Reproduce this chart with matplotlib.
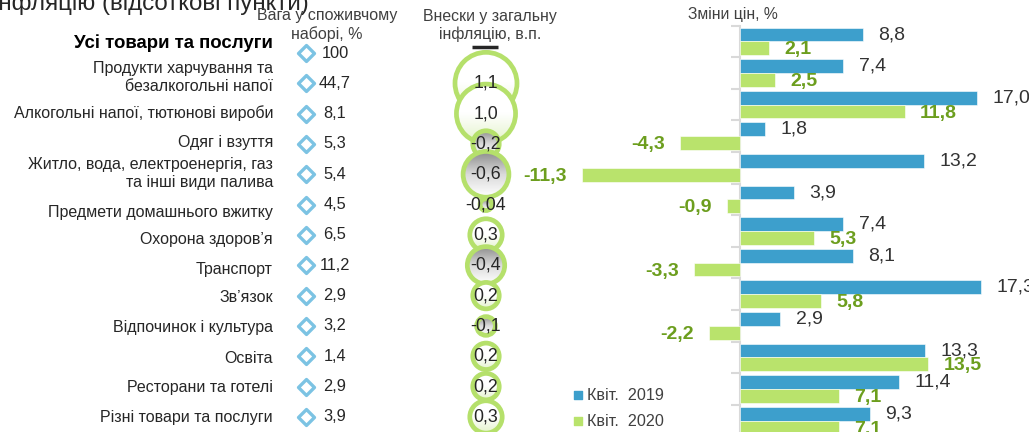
import numpy as np
import matplotlib
matplotlib.use("Agg")
import matplotlib.pyplot as plt
from matplotlib.patches import Circle
from matplotlib.colors import LinearSegmentedColormap

plt.rcParams['font.family'] = ['Liberation Sans', 'DejaVu Sans']

# --- data ---
categories = [
    "Усі товари та послуги",
    "Продукти харчування та\nбезалкогольні напої",
    "Алкогольні напої, тютюнові вироби",
    "Одяг і взуття",
    "Житло, вода, електроенергія, газ\nта інші види палива",
    "Предмети домашнього вжитку",
    "Охорона здоров’я",
    "Транспорт",
    "Зв’язок",
    "Відпочинок і культура",
    "Освіта",
    "Ресторани та готелі",
    "Різні товари та послуги",
]
weights = [100, 44.7, 8.1, 5.3, 5.4, 4.5, 6.5, 11.2, 2.9, 3.2, 1.4, 2.9, 3.9]
# contribution to headline inflation, p.p. (no bubble for the total)
contrib = [np.nan, 1.1, 1.0, -0.2, -0.6, -0.04, 0.3, -0.4, 0.2, -0.1, 0.2, 0.2, 0.3]
apr2019 = [8.8, 7.4, 17.0, 1.8, 13.2, 3.9, 7.4, 8.1, 17.3, 2.9, 13.3, 11.4, 9.3]
apr2020 = [2.1, 2.5, 11.8, -4.3, -11.3, -0.9, 5.3, -3.3, 5.8, -2.2, 13.5, 7.1, 7.1]
series_names = ["Квіт.  2019", "Квіт.  2020"]

BLUE = "#3d9fcc"
GREEN = "#b9e36c"
GREEN_TXT = "#6c9e1e"
RING = "#b5e06b"
TXT = "#262626"
GREY_TXT = "#404040"


def fmt(v):
    s = f"{v:.2f}" if abs(round(v, 1) - v) > 1e-9 else f"{v:.1f}"
    return s.replace(".", ",")


fig = plt.figure(figsize=(10.29, 4.32), dpi=100)

# left part drawn in pixel coordinates
ax0 = fig.add_axes([0, 0, 1, 1])
ax0.set_xlim(0, 1029)
ax0.set_ylim(432, 0)
ax0.axis("off")

n = len(categories)
row_y = 53 + 30.33 * np.arange(n)
label_dy = [-10, -6, -1, -1, -1, 8, 5, 4, 2, 2, 2, 1, 1]

ax0.text(-7, 10, "інфляцію (відсоткові пункти)", fontsize=17.4, color=TXT,
         ha="left", va="baseline")

ax0.text(327, 25, "Вага у споживчому\nнаборі, %", fontsize=11.5, color=GREY_TXT,
         ha="center", va="center", linespacing=1.2)
ax0.text(490, 25, "Внески у загальну\nінфляцію, в.п.", fontsize=11.4, color=GREY_TXT,
         ha="center", va="center", linespacing=1.2)
ax0.plot([472, 498], [47, 47], color=TXT, lw=2.5, solid_capstyle="butt")
ax0.text(733, 14, "Зміни цін, %", fontsize=11.3, color=GREY_TXT, ha="center", va="center")

for i, cat in enumerate(categories):
    bold = i == 0
    ax0.text(273, row_y[i] + label_dy[i], cat, ha="right", va="center",
             fontsize=13.4 if bold else 11.5, fontweight="bold" if bold else "normal",
             color="black" if bold else TXT, linespacing=1.2, multialignment="right")

ax0.scatter(np.full(n, 306), row_y, marker="D", s=66, facecolor="white",
            edgecolor="#7cc3e3", linewidth=2.4, zorder=3)
for i, w in enumerate(weights):
    ax0.text(335, row_y[i], f"{w:g}".replace(".", ","), ha="center", va="center",
             fontsize=11.8, color=TXT)

# bubbles, area ~ |contribution|
pos_cmap = LinearSegmentedColormap.from_list("pos", ["#ffffff", "#ffffff", "#e4f3cb"])
neg_cmap = LinearSegmentedColormap.from_list("neg", ["#8c8c8c", "#d9d9d9", "#ffffff"])
grad = np.linspace(0, 1, 64).reshape(-1, 1)
cx = 486
for i, c in enumerate(contrib):
    if np.isnan(c):
        continue
    r = 31 * np.sqrt(abs(c) / 1.1)
    cy = row_y[i]
    z = 4 + i * 0.1
    im = ax0.imshow(grad, cmap=pos_cmap if c > 0 else neg_cmap,
                    extent=(cx - r, cx + r, cy + r, cy - r), origin="upper",
                    aspect="auto", zorder=z)
    clip = Circle((cx, cy), r, transform=ax0.transData)
    im.set_clip_path(clip)
    ax0.add_patch(Circle((cx, cy), r, fill=False, edgecolor=RING, lw=3.4, zorder=z + 0.05))
for i, c in enumerate(contrib):
    if np.isnan(c):
        continue
    ax0.text(cx, row_y[i], fmt(c), ha="center", va="center", fontsize=12.8,
             color=TXT, zorder=10)

# legend
for k, (name, col) in enumerate(zip(series_names, [BLUE, GREEN])):
    yy = 395 + 26 * k
    ax0.scatter([578], [yy], marker="s", s=36, color=col, zorder=3)
    ax0.text(587, yy, name, ha="left", va="center", fontsize=11.6, color=GREY_TXT)

# bar chart
axb = fig.add_axes([560 / 1029, 0, 469 / 1029, 1])
axb.set_xlim(-12.90, 20.72)
axb.set_ylim(12.358, -1.313)
axb.axis("off")
axb.patch.set_visible(False)

idx = np.arange(n)
h = 0.437
axb.barh(idx - h / 2, apr2019, height=h, color=BLUE, edgecolor="white", linewidth=0.4)
axb.barh(idx + h / 2, apr2020, height=h, color=GREEN, edgecolor="white", linewidth=0.4)
axb.plot([0, 0], [-0.5, n], color="#d9d9d9", lw=1.5, zorder=0)
axb.hlines(idx - 0.5, -0.65, 0, color="#d9d9d9", lw=1.5)

gap = 1.1
for i in range(n):
    v = apr2019[i]
    axb.text(v + gap if v >= 0 else v - gap, i - h / 2, fmt(v),
             ha="left" if v >= 0 else "right", va="center", fontsize=14, color="#333333")
    v = apr2020[i]
    axb.text(v + gap if v >= 0 else v - gap, i + h / 2 + 0.05, fmt(v),
             ha="left" if v >= 0 else "right", va="center", fontsize=14,
             color=GREEN_TXT, fontweight="bold")

fig.savefig("out.png", dpi=100)
